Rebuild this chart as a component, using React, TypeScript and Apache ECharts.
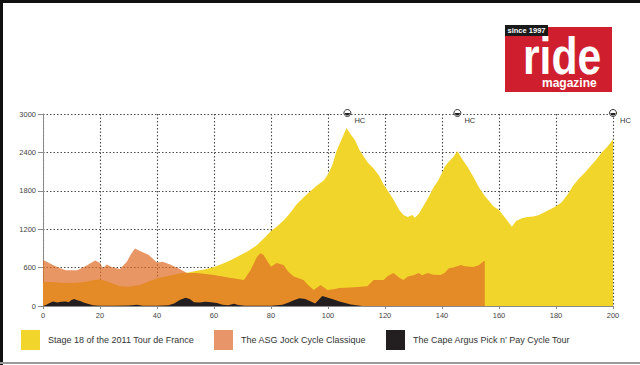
import React, { useEffect, useRef } from "react";
import * as echarts from "echarts";

const seriesNames = [
  "Stage 18 of the 2011 Tour de France",
  "The ASG Jock Cycle Classique",
  "The Cape Argus Pick n’ Pay Cycle Tour",
];

const tourKm = [0, 4, 8, 12, 15, 18, 20, 22, 24, 27, 30, 34, 38, 41, 45, 48, 51, 54, 57, 60, 63, 66, 69, 72, 75, 78, 80, 82, 84.5, 87, 89, 91.5, 94, 96, 98.5, 100, 101.5, 103, 104.5, 106.5, 108, 109.5, 111, 112.5, 114, 116, 118, 119.5, 121, 123, 125, 126.5, 128, 129.5, 130.5, 132, 134, 135.5, 137, 138.5, 140, 141, 142.5, 144, 145.4, 147, 149, 151, 153, 155, 156.5, 158, 160, 161, 162.5, 164.5, 166, 168, 170, 172, 174, 177, 180, 182, 184, 186, 188, 190, 192, 194, 196, 198, 200];
const tourElev = [380, 370, 360, 365, 380, 405, 415, 390, 360, 310, 300, 330, 400, 440, 480, 510, 525, 550, 575, 610, 660, 720, 790, 860, 950, 1080, 1170, 1240, 1340, 1470, 1590, 1700, 1800, 1880, 1960, 2060, 2200, 2420, 2580, 2780, 2680, 2590, 2440, 2340, 2240, 2150, 2030, 1900, 1800, 1660, 1500, 1420, 1390, 1420, 1380, 1450, 1600, 1720, 1850, 1950, 2080, 2180, 2260, 2330, 2420, 2300, 2170, 2020, 1850, 1720, 1640, 1560, 1500, 1440, 1360, 1240, 1330, 1370, 1390, 1400, 1420, 1490, 1560, 1620, 1740, 1880, 1990, 2080, 2180, 2280, 2400, 2490, 2600];

const asgKm = [0, 1.3, 3.5, 6, 8, 12, 15, 18.3, 20, 21, 22.4, 24, 27, 29.4, 31, 32.3, 34, 37, 40, 42, 44.6, 48, 50.5, 54, 57, 60, 63, 66, 70.5, 72.8, 75, 76.3, 77.3, 80, 82, 84.4, 86, 88, 91.4, 93, 95, 97.4, 99.8, 102, 104, 108, 111.4, 113.8, 116, 119.5, 121, 123, 125, 126.5, 128, 130, 131.8, 133, 135, 137, 139.5, 141, 142.4, 144, 146.6, 148, 151, 153, 154.7, 155, 155];
const asgElev = [720, 690, 640, 590, 560, 560, 625, 710, 670, 590, 650, 610, 580, 690, 820, 900, 860, 800, 680, 690, 650, 580, 515, 515, 500, 485, 460, 437, 406, 560, 760, 825, 800, 615, 670, 640, 540, 460, 406, 330, 250, 330, 250, 260, 280, 290, 300, 310, 406, 406, 470, 515, 440, 406, 460, 480, 515, 480, 515, 490, 485, 520, 590, 600, 640, 620, 610, 640, 705, 705, 0];

const argusKm = [0, 1, 2.5, 3.5, 5, 6.5, 8, 9, 10, 11, 12, 13, 14.5, 16, 17.5, 20, 25, 30, 33, 35, 40, 44, 46, 48, 50, 51.5, 53, 55, 57, 59, 61, 63, 65, 67, 68.5, 71, 80, 84, 86, 88, 90, 92, 94, 95.5, 97, 98, 100, 102, 104, 106, 108, 110, 112];
const argusElev = [0, 15, 50, 70, 55, 65, 70, 60, 95, 110, 90, 80, 50, 30, 10, 5, 5, 8, 20, 5, 5, 10, 40, 95, 130, 110, 60, 55, 65, 60, 45, 20, 10, 35, 15, 5, 5, 20, 50, 90, 120, 110, 70, 40, 110, 155, 130, 100, 70, 45, 25, 10, 0];

const hcKm = [106.8, 145.4, 200];
const hcTop = 3000;
const hcLabel = "HC";

const pairs = (xs: number[], ys: number[]) => xs.map((x, i) => [x, ys[i]]);

export default function App() {
  const ref = useRef<HTMLDivElement>(null);
  useEffect(() => {
    document.body.style.margin = "0";
    const chart = echarts.init(ref.current!, undefined, { renderer: "svg" });
    const font = "Liberation Sans, Arial, sans-serif";
    const dotted = { color: "#4a4a4a", width: 1.1, type: [1.5, 2] as any };
    const hcPoints: any[] = [];
    hcKm.forEach((k) => {
      hcPoints.push({
        coord: [k, hcTop],
        symbol: "circle",
        symbolSize: 7,
        symbolOffset: [0, -1],
        itemStyle: { color: "#ffffff", borderColor: "#333", borderWidth: 1 },
        label: {
          show: true,
          formatter: hcLabel,
          position: "right",
          offset: [-2, 7],
          fontSize: 7.5,
          color: "#333",
          fontFamily: font,
        },
      });
      hcPoints.push({
        coord: [k, hcTop],
        symbol: "path://M0,0 A1,1 0 0 0 2,0 Z",
        symbolSize: [5, 2.5],
        symbolOffset: [0, 0.3],
        itemStyle: { color: "#222" },
        label: { show: false },
      });
    });
    const legendBase = (name: string, left: number) => ({
      data: [name],
      left,
      top: 325,
      orient: "horizontal",
      icon: "rect",
      itemWidth: 19,
      itemHeight: 20,
      selectedMode: false,
      textStyle: { fontSize: 9, color: "#333", fontFamily: font, padding: [0, 0, 0, 3] },
    });
    chart.setOption({
      animation: false,
      backgroundColor: "#ffffff",
      grid: { left: 43, right: 27, top: 114, bottom: 59 },
      legend: [
        legendBase(seriesNames[0], 16),
        legendBase(seriesNames[1], 209),
        legendBase(seriesNames[2], 381),
      ],
      xAxis: {
        type: "value",
        min: 0,
        max: 200,
        interval: 20,
        axisLine: { show: true, lineStyle: { color: "#8a8a8a", width: 1 } },
        axisTick: { show: true, length: 3, lineStyle: { color: "#8a8a8a" } },
        axisLabel: { fontSize: 7.5, color: "#444", margin: 5, fontFamily: font, formatter: (v: number) => String(v) },
        splitLine: { show: true, lineStyle: dotted },
      },
      yAxis: {
        type: "value",
        min: 0,
        max: 3000,
        interval: 600,
        axisLine: { show: true, lineStyle: { color: "#8a8a8a", width: 1 } },
        axisTick: { show: true, length: 5, lineStyle: { color: "#8a8a8a" } },
        axisLabel: { fontSize: 7.5, color: "#444", margin: 7, fontFamily: font, formatter: (v: number) => String(v) },
        splitLine: { show: true, lineStyle: dotted },
      },
      series: [
        {
          name: seriesNames[0],
          type: "line",
          data: pairs(tourKm, tourElev),
          showSymbol: false,
          lineStyle: { width: 0 },
          itemStyle: { color: "#F2D52B" },
          areaStyle: { color: "#F2D52B", opacity: 1 },
          markPoint: { data: hcPoints },
          z: 2,
        },
        {
          name: seriesNames[1],
          type: "line",
          data: pairs(asgKm, asgElev),
          showSymbol: false,
          lineStyle: { width: 0 },
          itemStyle: { color: "#E8956A" },
          areaStyle: { color: "rgba(223,107,37,0.71)", opacity: 1 },
          z: 3,
        },
        {
          name: seriesNames[2],
          type: "line",
          data: pairs(argusKm, argusElev),
          showSymbol: false,
          lineStyle: { width: 0 },
          itemStyle: { color: "#231F20" },
          areaStyle: { color: "#231F20", opacity: 1 },
          z: 4,
        },
      ],
      graphic: [
        { type: "rect", shape: { x: 0, y: 0, width: 640, height: 3 }, style: { fill: "#111" } },
        { type: "rect", shape: { x: 0, y: 0, width: 3, height: 365 }, style: { fill: "#111" } },
        { type: "rect", shape: { x: 0, y: 362, width: 640, height: 2 }, style: { fill: "#9a9a9a" } },
        { type: "rect", shape: { x: 505, y: 27, width: 107, height: 65 }, style: { fill: "#CF1F2E" } },
        { type: "rect", shape: { x: 505, y: 25, width: 43, height: 11 }, style: { fill: "#1a1a1a" } },
        {
          type: "text",
          x: 526.5,
          y: 30.5,
          style: { text: "since 1997", fill: "#fff", fontSize: 7.5, fontWeight: "bold", fontFamily: font, align: "center", verticalAlign: "middle" },
        },
        {
          type: "text",
          x: 523,
          y: 56,
          scaleX: 0.82,
          style: { text: "ride", fill: "#fff", fontSize: 52, fontWeight: "bold", fontFamily: font, align: "left", verticalAlign: "middle" },
        },
        {
          type: "text",
          x: 542,
          y: 83,
          style: { text: "magazine", fill: "#fff", fontSize: 12, fontWeight: "bold", fontFamily: font, align: "left", verticalAlign: "middle" },
        },
      ],
    });
    return () => chart.dispose();
  }, []);
  return <div ref={ref} style={{ position: "fixed", left: 0, top: 0, width: 640, height: 365 }} />;
}
